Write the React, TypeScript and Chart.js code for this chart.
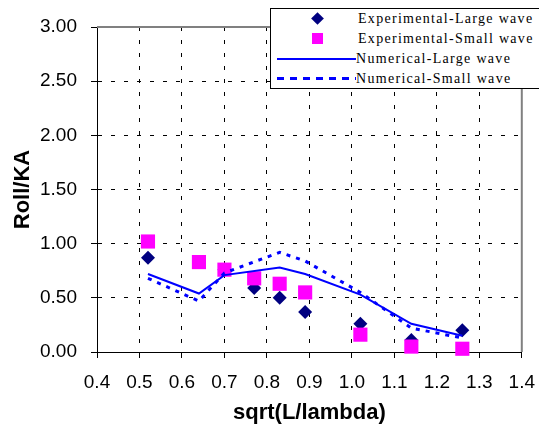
import React, { useEffect, useRef } from "react";
import { Chart, registerables } from "chart.js";

Chart.register(...registerables);

const expX = [0.52, 0.64, 0.70, 0.77, 0.83, 0.89, 1.02, 1.14, 1.26];
const expLarge = [0.87, 0.83, 0.76, 0.59, 0.50, 0.37, 0.26, 0.11, 0.20];
const expSmall = [1.02, 0.83, 0.76, 0.68, 0.63, 0.55, 0.16, 0.05, 0.03];

const numX = [0.52, 0.64, 0.70, 0.83, 0.89, 1.02, 1.14, 1.26];
const numLarge = [0.72, 0.54, 0.71, 0.78, 0.72, 0.53, 0.26, 0.15];
const numSmall = [0.68, 0.47, 0.73, 0.92, 0.84, 0.55, 0.22, 0.13];

const legendLabels = [
  "Experimental-Large wave",
  "Experimental-Small wave",
  "Numerical-Large wave",
  "Numerical-Small wave",
];

const xTitle = "sqrt(L/lambda)";
const yTitle = "Roll/KA";

const NAVY = "#000080";
const MAGENTA = "#FF00FF";
const BLUE = "#0000FF";

const toPts = (xs: number[], ys: number[]) => xs.map((x, i) => ({ x, y: ys[i] }));

const frame = {
  id: "frame",
  beforeDatasetsDraw(chart: any) {
    const { ctx, chartArea } = chart;
    ctx.save();
    ctx.strokeStyle = "#808080";
    ctx.lineWidth = 2;
    ctx.beginPath();
    ctx.moveTo(chartArea.left, chartArea.top);
    ctx.lineTo(chartArea.right, chartArea.top);
    ctx.lineTo(chartArea.right, chartArea.bottom);
    ctx.stroke();
    ctx.restore();
  },
};

export default function App() {
  const ref = useRef<HTMLCanvasElement | null>(null);
  useEffect(() => {
    if (!ref.current) return;
    const tickFont = { family: "'Liberation Sans', Arial, sans-serif", size: 19 };
    const xTickFont = { family: "'Liberation Sans', Arial, sans-serif", size: 19, lineHeight: 2.2 };
    const titleFont = { family: "'Liberation Sans', Arial, sans-serif", size: 22, weight: "bold" as const };
    const chart = new Chart(ref.current, {
      type: "scatter",
      data: {
        datasets: [
          {
            label: legendLabels[0],
            data: toPts(expX, expLarge),
            pointStyle: "rectRot",
            pointRadius: 7,
            backgroundColor: NAVY,
            borderColor: NAVY,
            borderWidth: 0,
            showLine: false,
            clip: false,
            order: 4,
          },
          {
            label: legendLabels[1],
            data: toPts(expX, expSmall),
            pointStyle: "rect",
            pointRadius: 10,
            backgroundColor: MAGENTA,
            borderColor: MAGENTA,
            borderWidth: 0,
            showLine: false,
            clip: false,
            order: 3,
          },
          {
            label: legendLabels[2],
            data: toPts(numX, numLarge),
            showLine: true,
            pointRadius: 0,
            borderColor: BLUE,
            borderWidth: 2,
            tension: 0,
            clip: false,
            order: 2,
          },
          {
            label: legendLabels[3],
            data: toPts(numX, numSmall),
            showLine: true,
            pointRadius: 0,
            borderColor: BLUE,
            borderWidth: 3,
            borderDash: [4, 6],
            tension: 0,
            clip: false,
            order: 1,
          },
        ],
      },
      options: {
        animation: false,
        responsive: false,
        layout: { padding: { top: 27, right: 17, left: 0, bottom: 0 } },
        plugins: { legend: { display: false }, tooltip: { enabled: false } },
        scales: {
          x: {
            type: "linear",
            min: 0.4,
            max: 1.4,
            afterFit: (s: any) => { s.height = 74; },
            ticks: {
              stepSize: 0.1,
              color: "#000",
              font: xTickFont,
              padding: 4,
              maxRotation: 0,
              callback: (v: any) => Number(v).toFixed(1),
            },
            grid: {
              color: (c: any) => {
                const v = c.tick ? c.tick.value : 0;
                return v < 0.45 || v > 1.35 ? "rgba(0,0,0,0)" : "#000";
              },
              tickColor: "#000",
              tickLength: 6,
              lineWidth: 1,
            },
            border: { display: true, color: "#000", width: 1, dash: [4, 9] },
            title: { display: true, text: xTitle, color: "#000", font: titleFont, padding: { top: 0, bottom: 0 } },
          },
          y: {
            min: 0,
            max: 3,
            afterFit: (s: any) => { s.width = 97; },
            ticks: {
              stepSize: 0.5,
              color: "#000",
              font: tickFont,
              padding: 14,
              callback: (v: any) => Number(v).toFixed(2),
            },
            grid: {
              color: (c: any) => {
                const v = c.tick ? c.tick.value : 0;
                return v < 0.01 || v > 2.99 ? "rgba(0,0,0,0)" : "#000";
              },
              tickColor: "#000",
              tickLength: 6,
              lineWidth: 1,
            },
            border: { display: true, color: "#000", width: 1, dash: [4, 9] },
            title: { display: true, text: yTitle, color: "#000", font: titleFont, padding: { top: 10, bottom: 0 } },
          },
        },
      },
      plugins: [frame],
    });
    return () => chart.destroy();
  }, []);

  const legendFont = "'Liberation Serif', 'Times New Roman', serif";
  const rowTop = [10, 30, 50, 70];
  return (
    <div style={{ position: "absolute", left: 0, top: 0, width: 539, height: 426, overflow: "hidden", background: "#fff" }}>
      <canvas ref={ref} width={539} height={426} style={{ display: "block" }} />
      <div
        style={{
          position: "absolute",
          left: 270,
          top: 8,
          width: 280,
          height: 81,
          border: "1px solid #000",
          background: "#fff",
          boxSizing: "border-box",
        }}
      >
        {legendLabels.map((t, i) => (
          <div key={t} style={{ position: "absolute", left: 0, top: rowTop[i] - 10, height: 20, width: 280 }}>
            {i === 0 && (
              <div style={{ position: "absolute", left: 42, top: 5, width: 9, height: 9, background: NAVY, transform: "rotate(45deg)" }} />
            )}
            {i === 1 && (
              <div style={{ position: "absolute", left: 41, top: 4, width: 11, height: 11, background: MAGENTA }} />
            )}
            {i === 2 && (
              <div style={{ position: "absolute", left: 6, top: 9, width: 79, height: 2, background: BLUE }} />
            )}
            {i === 3 && (
              <div style={{ position: "absolute", left: 6, top: 8, width: 79, height: 3, backgroundImage: `repeating-linear-gradient(90deg, ${BLUE} 0 7px, transparent 7px 13px)` }} />
            )}
            <span
              style={{
                position: "absolute",
                left: i < 2 ? 87 : 85,
                top: 1,
                fontFamily: legendFont,
                fontSize: 14,
                letterSpacing: "1.3px",
                whiteSpace: "nowrap",
                lineHeight: "18px",
                color: "#000",
              }}
            >
              {t}
            </span>
          </div>
        ))}
      </div>
    </div>
  );
}
